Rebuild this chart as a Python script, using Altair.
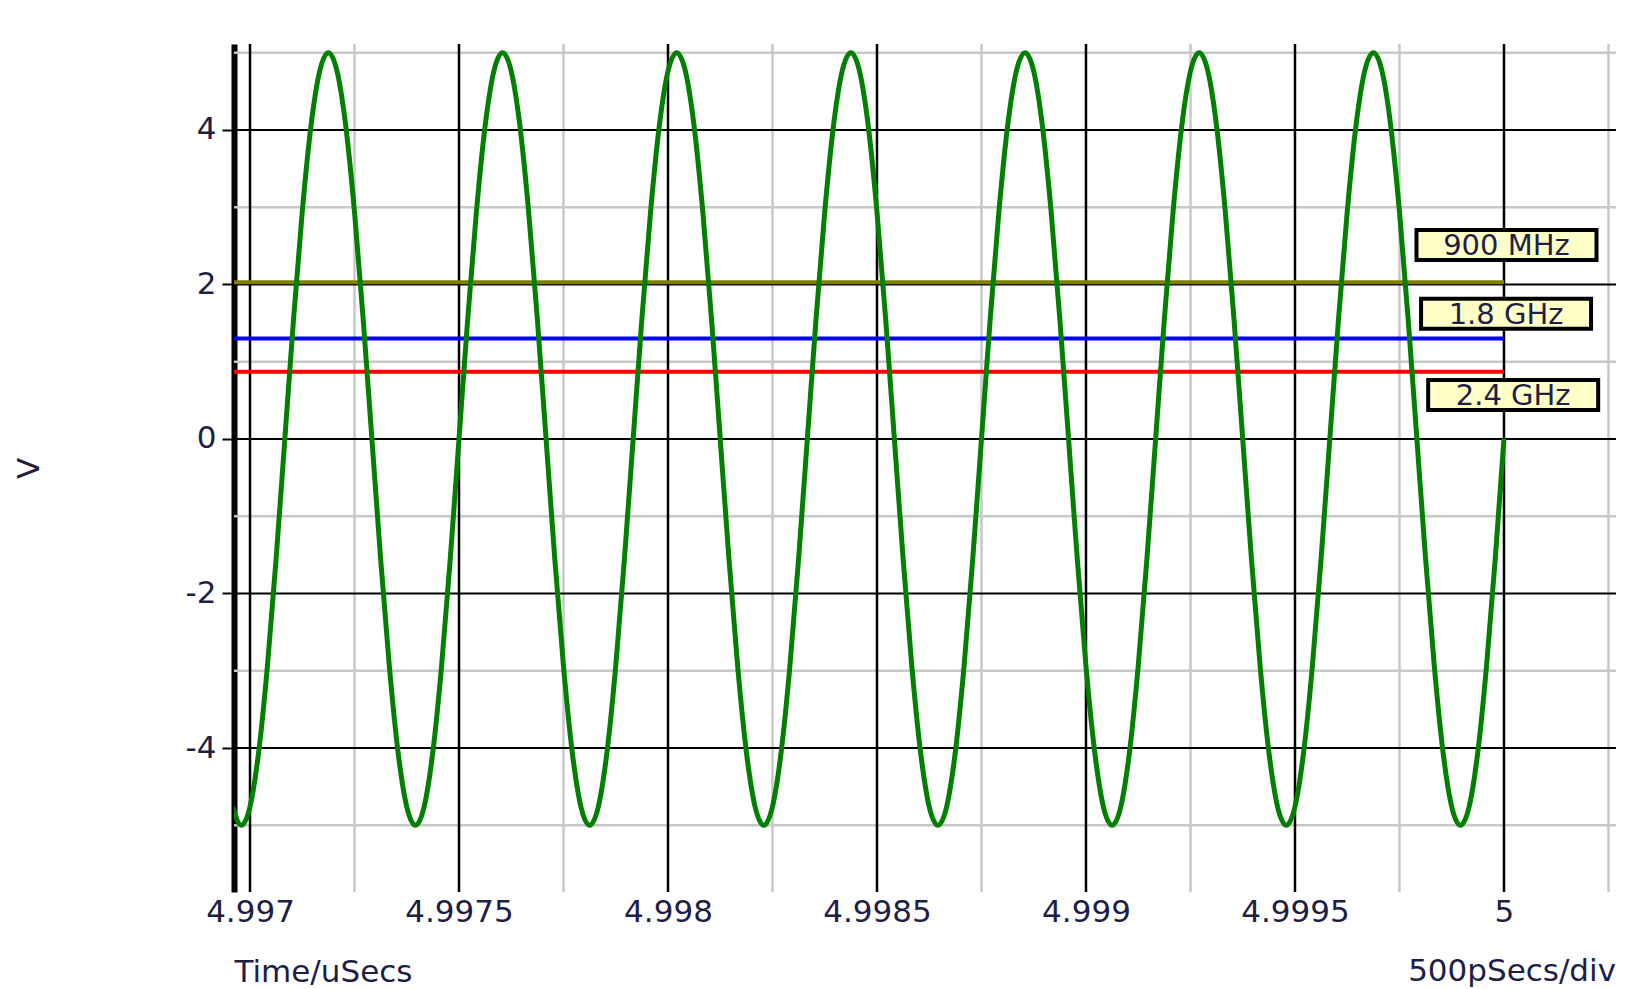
import altair as alt
import pandas as pd

# ---- data ----
# green trace (V), samples every 18 degrees of the 2.4 GHz cycle
wave_volts = [
    -4.76, -5.0, -4.76, -4.05, -2.94, -1.55, 0.0, 1.55, 2.94, 4.05, 4.76, 5.0, 4.76, 4.05, 2.94, 1.55, 0.0, -1.55, -2.94, -4.05,
    -4.76, -5.0, -4.76, -4.05, -2.94, -1.55, 0.0, 1.55, 2.94, 4.05, 4.76, 5.0, 4.76, 4.05, 2.94, 1.55, 0.0, -1.55, -2.94, -4.05,
    -4.76, -5.0, -4.76, -4.05, -2.94, -1.55, 0.0, 1.55, 2.94, 4.05, 4.76, 5.0, 4.76, 4.05, 2.94, 1.55, 0.0, -1.55, -2.94, -4.05,
    -4.76, -5.0, -4.76, -4.05, -2.94, -1.55, 0.0, 1.55, 2.94, 4.05, 4.76, 5.0, 4.76, 4.05, 2.94, 1.55, 0.0, -1.55, -2.94, -4.05,
    -4.76, -5.0, -4.76, -4.05, -2.94, -1.55, 0.0, 1.55, 2.94, 4.05, 4.76, 5.0, 4.76, 4.05, 2.94, 1.55, 0.0, -1.55, -2.94, -4.05,
    -4.76, -5.0, -4.76, -4.05, -2.94, -1.55, 0.0, 1.55, 2.94, 4.05, 4.76, 5.0, 4.76, 4.05, 2.94, 1.55, 0.0, -1.55, -2.94, -4.05,
    -4.76, -5.0, -4.76, -4.05, -2.94, -1.55, 0.0, 1.55, 2.94, 4.05, 4.76, 5.0, 4.76, 4.05, 2.94, 1.55, 0.0, -1.55, -2.94, -4.05,
    -4.76, -5.0, -4.76, -4.05, -2.94, -1.55, 0.0,
]
SAMPLE_T0 = 4.9969583        # uSecs, first sample
SAMPLE_STEP = 0.0000208333   # uSecs between samples

level_names = ["900 MHz", "1.8 GHz", "2.4 GHz"]
level_volts = [2.03, 1.30, 0.87]
level_colors = ["#808000", "#0000ff", "#ff0000"]
label_volts = [2.51, 1.62, 0.57]
label_times = [5.000006, 5.000005, 5.000022]

x_major = [4.997, 4.9975, 4.998, 4.9985, 4.999, 4.9995, 5.0]
x_minor = [4.99725, 4.99775, 4.99825, 4.99875, 4.99925, 4.99975, 5.00025]
y_major = [-4, -2, 0, 2, 4]
y_minor = [-5, -3, -1, 1, 3, 5]

X_DOMAIN = [4.9969617, 5.000268]
Y_DOMAIN = [-5.864, 5.113]

# ---- layout / style ----
W, H = 1382, 848
PX_PER_US = W / (X_DOMAIN[1] - X_DOMAIN[0])
PX_PER_V = H / (Y_DOMAIN[1] - Y_DOMAIN[0])
box_half_w_px = [90, 85, 85]
BOX_HALF_H_PX = 15
FONT = "DejaVu Sans"
FS = 31
TXT = "#1e1e46"

wave = pd.DataFrame({
    "t": [SAMPLE_T0 + i * SAMPLE_STEP for i in range(len(wave_volts))],
    "v": wave_volts,
})
levels = pd.DataFrame({
    "name": level_names,
    "v": level_volts,
    "color": level_colors,
    "t0": [X_DOMAIN[0]] * len(level_names),
    "t1": [5.0] * len(level_names),
})
labels = pd.DataFrame({
    "name": level_names,
    "t": label_times,
    "v": label_volts,
    "ta": [t - w / PX_PER_US for t, w in zip(label_times, box_half_w_px)],
    "tb": [t + w / PX_PER_US for t, w in zip(label_times, box_half_w_px)],
    "va": [v - BOX_HALF_H_PX / PX_PER_V for v in label_volts],
    "vb": [v + BOX_HALF_H_PX / PX_PER_V for v in label_volts],
})

x_axis = alt.Axis(
    values=x_major, labelExpr="datum.value + ''", grid=False, domain=False, ticks=False,
    labelFont=FONT, labelFontSize=FS, labelColor=TXT, labelPadding=5, labelFlush=False,
    labelOverlap=False, title="Time/uSecs", titleFont=FONT, titleFontSize=FS,
    titleFontWeight="normal", titleColor=TXT, titleX=0, titleY=80,
    titleAlign="left", titleBaseline="middle",
)
y_axis = alt.Axis(
    values=y_major, labelExpr="datum.value + ''", grid=False, domain=True,
    domainColor="black", domainWidth=6, ticks=True, tickColor="black", tickWidth=2,
    tickSize=12, labelFont=FONT, labelFontSize=FS, labelColor=TXT, labelPadding=6,
    labelOverlap=False, labelFlush=False, title="V", titleFont=FONT, titleFontSize=FS,
    titleFontWeight="normal", titleColor=TXT, titleX=-205, titleY=H / 2,
    titleAngle=270, titleAlign="center", titleBaseline="middle",
)
xs = alt.Scale(domain=X_DOMAIN, nice=False, zero=False)
ys = alt.Scale(domain=Y_DOMAIN, nice=False, zero=False)

def X(f):
    return alt.X(f, scale=xs, axis=x_axis)

def Y(f):
    return alt.Y(f, scale=ys, axis=y_axis)

minor_v = alt.Chart(pd.DataFrame({"t": x_minor})).mark_rule(color="#c8c8c8", strokeWidth=2.5).encode(x=X("t:Q"))
minor_h = alt.Chart(pd.DataFrame({"v": y_minor})).mark_rule(color="#c8c8c8", strokeWidth=2.5).encode(y=Y("v:Q"))
major_v = alt.Chart(pd.DataFrame({"t": x_major})).mark_rule(color="black", strokeWidth=2.5).encode(x=X("t:Q"))
major_h = alt.Chart(pd.DataFrame({"v": y_major})).mark_rule(color="black", strokeWidth=2).encode(y=Y("v:Q"))

level_rules = alt.Chart(levels).mark_rule(strokeWidth=4).encode(
    x=X("t0:Q"), x2="t1:Q", y=Y("v:Q"),
    color=alt.Color("color:N", scale=None),
)

trace = alt.Chart(wave).mark_line(
    color="#008000", strokeWidth=5, interpolate="monotone", clip=True
).encode(x=X("t:Q"), y=Y("v:Q"))

boxes = alt.Chart(labels).mark_rect(
    fill="#ffffc8", stroke="black", strokeWidth=4
).encode(x=X("ta:Q"), x2="tb:Q", y=Y("va:Q"), y2="vb:Q")

box_text = alt.Chart(labels).mark_text(
    font=FONT, fontSize=29, color=TXT, align="center", baseline="middle", dy=1
).encode(x=X("t:Q"), y=Y("v:Q"), text="name:N")

div_text = alt.Chart(pd.DataFrame({"s": ["500pSecs/div"]})).mark_text(
    font=FONT, fontSize=FS, color=TXT, align="right", baseline="middle"
).encode(x=alt.value(W), y=alt.value(H + 80), text="s:N")

chart = alt.layer(
    minor_v, minor_h, major_v, major_h, level_rules, trace, boxes, box_text, div_text
).properties(
    width=W, height=H,
    padding={"left": 234, "top": 44, "right": 11, "bottom": 97},
    autosize=alt.AutoSizeParams(type="none"),
    background="white",
).configure_view(strokeWidth=0)

chart.save("out.html", embed_options={"renderer": "svg", "actions": False})
